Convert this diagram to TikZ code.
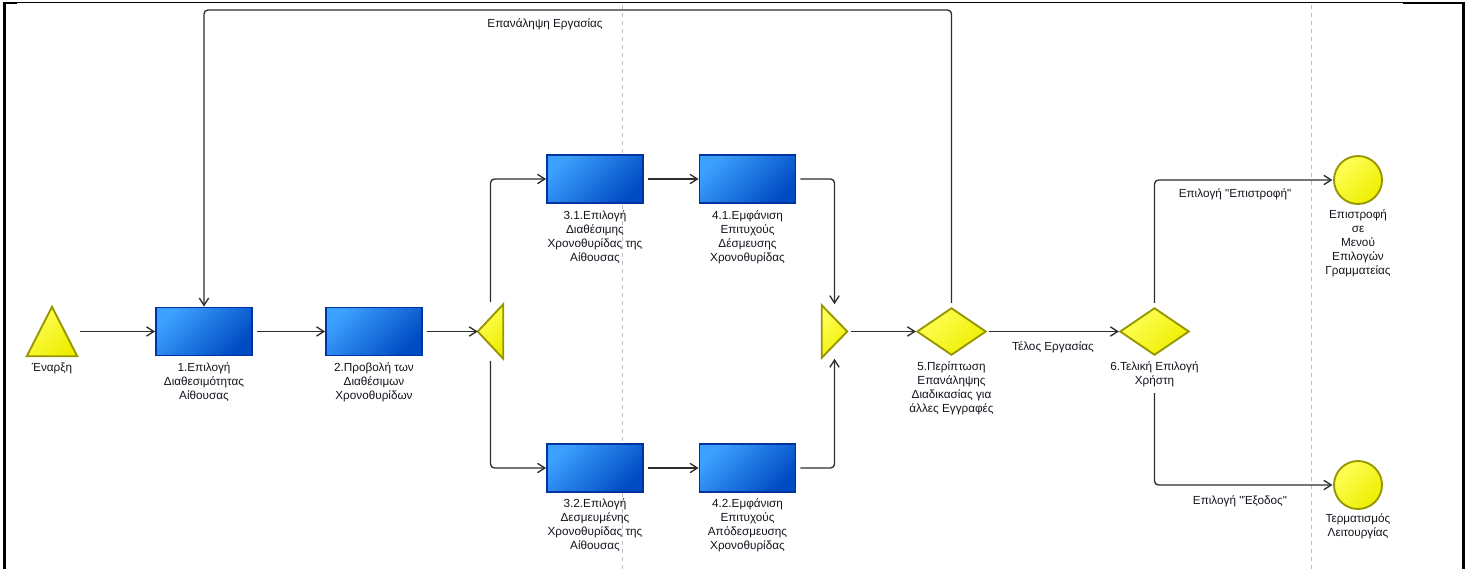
\documentclass[tikz,border=0pt]{standalone}
\usepackage{fontspec}
\setmainfont{Liberation Sans}[Ligatures=TeXOff]
\usetikzlibrary{arrows.meta,shapes.geometric}
\definecolor{txt}{RGB}{20,20,30}
\definecolor{conncol}{RGB}{45,45,45}
\definecolor{taskb}{RGB}{0,51,160}
\definecolor{tasklight}{RGB}{60,160,255}
\definecolor{taskdark}{RGB}{0,75,195}
\definecolor{gwb}{RGB}{150,150,0}
\definecolor{gwlight}{RGB}{255,255,90}
\definecolor{gwdark}{RGB}{238,238,0}
\definecolor{lanecol}{RGB}{190,190,190}
\newcommand{\lblfont}{\fontsize{8.8pt}{10.6pt}\selectfont}
\tikzset{
  task/.style={rectangle, draw=taskb, line width=1.4pt, top color=tasklight, bottom color=taskdark, shading angle=45, minimum width=72pt, minimum height=36pt, inner sep=0pt},
  anchorbox/.style={rectangle, inner sep=0pt, draw=none},
  gwfill/.style={draw=gwb, line width=1.4pt, top color=gwlight, bottom color=gwdark, shading angle=45, line join=miter},
  gwdiamond/.style={diamond, gwfill, minimum width=52pt, minimum height=35.5pt, inner sep=0pt},
  endev/.style={circle, gwfill, minimum size=36pt, inner sep=0pt},
  conn/.style={draw=conncol, line width=1pt, -{Straight Barb[length=5.5pt,width=7pt]}, rounded corners=3pt},
  lbl/.style={anchor=north, inner sep=0pt, align=center, font=\lblfont, text=txt},
  elbl/.style={anchor=base, inner sep=0pt, font=\lblfont, text=txt},
  lane/.style={draw=lanecol, line width=0.6pt, dash pattern=on 3pt off 3pt},
}
\begin{document}
\begin{tikzpicture}[x=0.75pt,y=-0.75pt]
\useasboundingbox (0,0) rectangle (1469,569);
% frame
\draw[black, line width=0.75pt] (3,2.5) -- (1465,2.5);
\draw[black, line width=1.5pt] (3,3) -- (17,3);
\draw[black, line width=1.5pt] (1403,3) -- (1465,3);
\draw[black, line width=2.25pt] (4.5,2) -- (4.5,569);
\draw[black, line width=2.25pt] (1463.5,2) -- (1463.5,569);
% lanes
\draw[lane] (622,5) -- (622,569);
\draw[lane] (1311.5,5) -- (1311.5,569);

% start event
\node[anchorbox, minimum width=37.5pt, minimum height=36.75pt] (start) at (52,331.5) {};
\filldraw[gwfill] (start.south west) -- (start.south east) -- (start.north) -- cycle;
% tasks
\node[task] (box1) at (204,331.5) {};
\node[task] (box2) at (374,331.5) {};
\node[task] (box31) at (595,179) {};
\node[task] (box41) at (747.5,179) {};
\node[task] (box32) at (595,468) {};
\node[task] (box42) at (747.5,468) {};
% split gateway
\node[anchorbox, minimum width=18.75pt, minimum height=40.5pt] (split) at (490.5,331.5) {};
\filldraw[gwfill] (split.west) -- (split.north east) -- (split.south east) -- cycle;
% join gateway
\node[anchorbox, minimum width=18.75pt, minimum height=39pt] (join) at (834.5,331.5) {};
\filldraw[gwfill] (join.north west) -- (join.east) -- (join.south west) -- cycle;
% decisions
\node[gwdiamond] (d5) at (951.5,331.5) {};
\node[gwdiamond] (d6) at (1154.5,331.5) {};
% end events
\node[endev] (end1) at (1358,180) {};
\node[endev] (end2) at (1358,485) {};

% labels
\node[lbl] (lstart) at (52,361) {\strut Έναρξη};
\node[lbl] (lbox1) at (204,361) {\strut 1.Επιλογή\\Διαθεσιμότητας\\Αίθουσας};
\node[lbl] (lbox2) at (374,361) {\strut 2.Προβολή των\\Διαθέσιμων\\Χρονοθυρίδων};
\node[lbl] (lbox31) at (595,209) {\strut 3.1.Επιλογή\\Διαθέσιμης\\Χρονοθυρίδας της\\Αίθουσας};
\node[lbl] (lbox41) at (747.5,209) {\strut 4.1.Εμφάνιση\\Επιτυχούς\\Δέσμευσης\\Χρονοθυρίδας};
\node[lbl] (lbox32) at (595,497) {\strut 3.2.Επιλογή\\Δεσμευμένης\\Χρονοθυρίδας της\\Αίθουσας};
\node[lbl] (lbox42) at (747.5,497) {\strut 4.2.Εμφάνιση\\Επιτυχούς\\Απόδεσμευσης\\Χρονοθυρίδας};
\node[lbl] (ld5) at (951.5,360) {\strut 5.Περίπτωση\\Επανάληψης\\Διαδικασίας για\\άλλες Εγγραφές};
\node[lbl] (ld6) at (1154.5,360) {\strut 6.Τελική Επιλογή\\Χρήστη};
\node[lbl] (lend1) at (1358,208) {\strut Επιστροφή\\σε\\Μενού\\Επιλογών\\Γραμματείας};
\node[lbl] (lend2) at (1358,512) {\strut Τερματισμός\\Λειτουργίας};

% connectors
\draw[conn, shorten <=2.25pt] (start.east) -- (box1.west);
\draw[conn, shorten <=3pt] (box1.east) -- (box2.west);
\draw[conn, shorten <=3pt] (box2.east) -- (split.west);
\draw[conn, shorten <=1.5pt] (split.north) |- (box31.west);
\draw[conn, shorten <=1.5pt] (split.south) |- (box32.west);
\draw[conn, shorten <=3pt] (box31.east) -- (box41.west);
\draw[conn, shorten <=3pt] (box32.east) -- (box42.west);
\draw[conn, shorten <=3pt, shorten >=0.75pt] (box41.east) -| (join.north);
\draw[conn, shorten <=3pt, shorten >=0.75pt] (box42.east) -| (join.south);
\draw[conn, shorten <=3pt] (join.east) -- (d5.west);
\draw[conn, shorten <=1.5pt] (d5.east) -- (d6.west);
\coordinate (looptop) at (578,10);
\draw[conn, shorten <=3pt] (d5.north) |- (looptop) -| (box1.north);
\draw[conn, shorten <=3pt, shorten >=0.5pt] (d6.north) |- (end1.west);
\coordinate (d6out) at (1154.5,393);
\draw[conn, shorten >=0.5pt] (d6out) |- (end2.west);

% edge labels
\node[elbl] (lloop) at (545,27) {Επανάληψη Εργασίας};
\node[elbl] (lend) at (1053,350) {Τέλος Εργασίας};
\node[elbl] (lret) at (1235,197) {Επιλογή "Επιστροφή"};
\node[elbl] (lexit) at (1240,504) {Επιλογή "Έξοδος"};
\end{tikzpicture}
\end{document}
